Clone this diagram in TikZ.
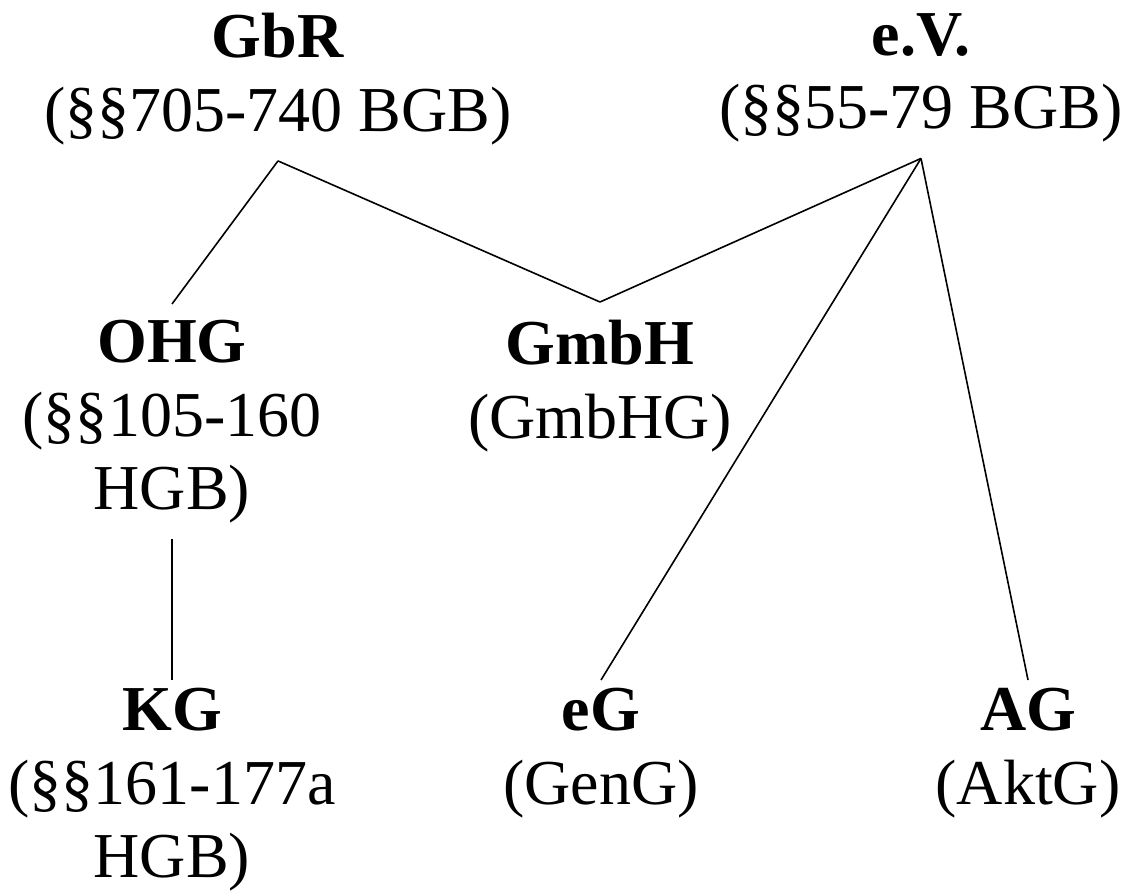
\documentclass[tikz,border=0pt]{standalone}
\usepackage{fontspec}
\setmainfont{Liberation Serif}
\begin{document}
\begin{tikzpicture}[x=1pt,y=-1pt,
 lbl/.style={align=center, anchor=north, inner xsep=0pt, inner ysep=16pt, font=\fontsize{64}{73.5}\selectfont},
 lblb/.style={lbl, inner ysep=8pt},
 conn/.style={line width=1.6pt}]
\useasboundingbox (0,0) rectangle (1126,895);
\node[lbl] (gbr) at (278,-3) {\textbf{GbR}\\(§§705-740 BGB)};
\node[lbl] (ev) at (921,-3) {\textbf{e.V.}\\(§§55-79 BGB)};
\node[lbl] (ohg) at (172,304) {\textbf{OHG}\\(§§105-160\\HGB)};
\node[lbl] (gmbh) at (600,304) {\textbf{GmbH}\\(GmbHG)};
\node[lblb] (kg) at (172,680) {\textbf{KG}\\(§§161-177a\\HGB)};
\node[lblb] (eg) at (601,680) {\textbf{eG}\\(GenG)};
\node[lblb] (ag) at (1028,680) {\textbf{AG}\\(AktG)};
\draw[conn] (gbr.south) -- (ohg.north);
\draw[conn] (gbr.south) -- ([yshift=2]gmbh.north);
\draw[conn] (ev.south) -- ([yshift=2]gmbh.north);
\draw[conn] (ev.south) -- (eg.north);
\draw[conn] (ev.south) -- (ag.north);
\draw[conn] (ohg.south) -- (kg.north);
\end{tikzpicture}
\end{document}
